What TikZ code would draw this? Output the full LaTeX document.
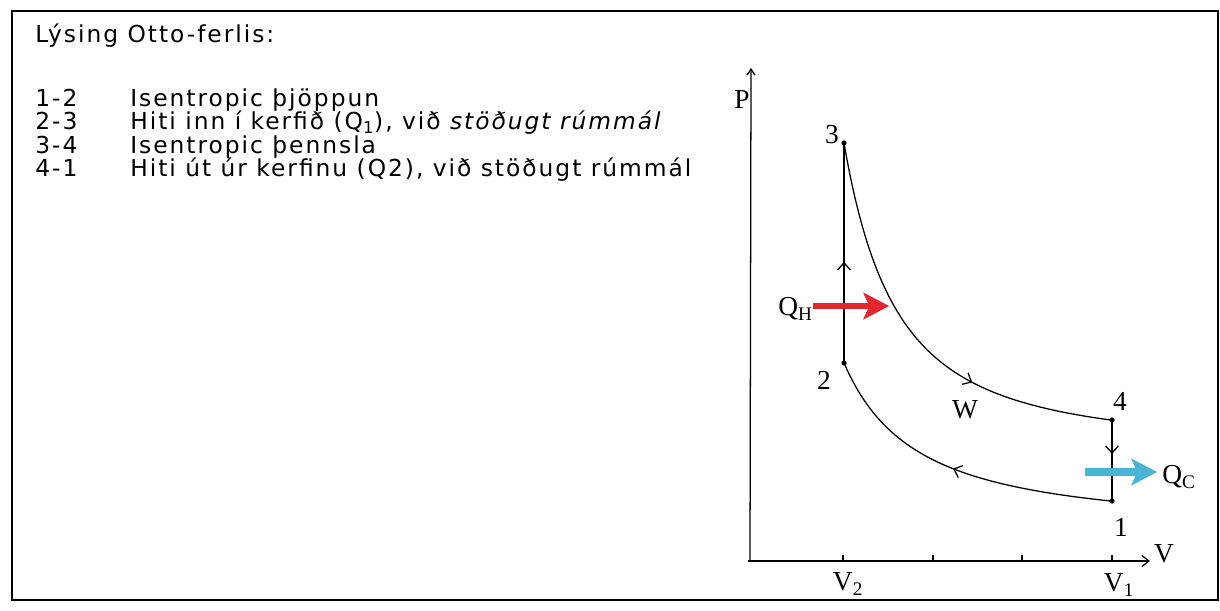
\documentclass[tikz,border=0pt]{standalone}
\usepackage{fontspec}
\setmainfont{DejaVu Sans}[LetterSpace=8.5]
\newfontfamily\plotfont{Liberation Serif}
\usepackage{xcolor}
\usetikzlibrary{arrows.meta,decorations.markings}

\definecolor{hotred}{RGB}{228,38,48}
\definecolor{coldblue}{RGB}{72,180,214}

\tikzset{
  flow/.style={postaction={decorate},
    decoration={markings, mark=at position #1 with {\arrow{Straight Barb[length=1.8mm,width=3.2mm]}}}},
  curve/.style={line width=0.9pt},
  lbl/.style={font=\plotfont\fontsize{19.5}{23}\selectfont, inner sep=0pt},
  txt/.style={anchor=base west, inner sep=0pt, font=\fontsize{16.6}{20}\selectfont},
  heatarrow/.style={line width=#1, -{Stealth[length=6.5mm,width=6.8mm,inset=1.6mm,line width=0.5pt]}},
}

\begin{document}
\begin{tikzpicture}[x=0.025cm, y=-0.025cm]
  \useasboundingbox (0,0) rectangle (1220,610);
  \draw[line width=1.4pt] (12,11) rectangle (1218,600);

  % text
  \node[txt] (title) at (35,43) {Lýsing Otto-ferlis:};
  \foreach \nr/\dsc [count=\k] in {1-2/{Isentropic þjöppun},
      2-3/{Hiti inn í kerfið (Q\textsubscript{1}), við \textit{stöðugt rúmmál}},
      3-4/{Isentropic þennsla},
      4-1/{Hiti út úr kerfinu (Q2), við stöðugt rúmmál}} {
    \node[txt] (nr\k) at (35,{84+23*\k}) {\nr};
    \node[txt] (dsc\k) at (130,{84+23*\k}) {\dsc};
  }

  % axes
  \coordinate (o) at (750,561);
  \coordinate (vstart) at (748,561);
  \coordinate (ptop) at (751,68);
  \coordinate (vend) at (1150,561);
  \draw[line width=0.9pt, -{Straight Barb[length=1.5mm,width=2mm]}] (o) -- (ptop);
  \draw[line width=0.9pt, -{Straight Barb[length=1.8mm,width=2.8mm]}] (vstart) -- (vend);
  \foreach \x in {843,933,1022,1112}
    \draw[line width=0.8pt] (\x,561) -- (\x,555);
  \node[lbl] (plab) at (742,100) {P};
  \node[lbl] (vlab) at (1164,554) {V};
  \node[lbl] (v2) at (848,584) {V\textsubscript{2}};
  \node[lbl] (v1) at (1119,585) {V\textsubscript{1}};

  % cycle
  \coordinate (p1) at (1112,501);
  \coordinate (p2) at (844,363);
  \coordinate (p3) at (844,143);
  \coordinate (p4) at (1112,420);
  \draw[curve, flow=0.46] (p2) -- (p3);
  \draw[curve, flow=0.66] plot[domain=844:1112, samples=90] (\x, {561-114-304*(94/(\x-750))^1.8});
  \draw[curve, flow=0.42] (p4) -- (p1);
  \draw[curve, flow=0.51] plot[domain=1112:844, samples=90] (\x, {561-30.9-167.1*(94/(\x-750))^1.3});
  \foreach \p in {p1,p2,p3,p4}
    \fill (\p) circle (2.6);
  \node[lbl] (l1) at (1121,527) {1};
  \node[lbl] (l2) at (824,380) {2};
  \node[lbl] (l3) at (832,135) {3};
  \node[lbl] (l4) at (1120,401) {4};
  \node[lbl] (w) at (965,410) {W};

  % heat flows
  \node[lbl, anchor=east] (qh) at (813,309) {Q\textsubscript{H}};
  \coordinate (qhtip) at (889,306);
  \draw[heatarrow=4.3pt, hotred] (qh.east |- qhtip) -- (qhtip);
  \coordinate (qcstart) at (1085,472);
  \coordinate (qctip) at (1157,472);
  \node[lbl, anchor=west] (qc) at (1162,477) {Q\textsubscript{C}};
  \draw[heatarrow=5pt, coldblue] (qcstart) -- (qctip);
\end{tikzpicture}
\end{document}
